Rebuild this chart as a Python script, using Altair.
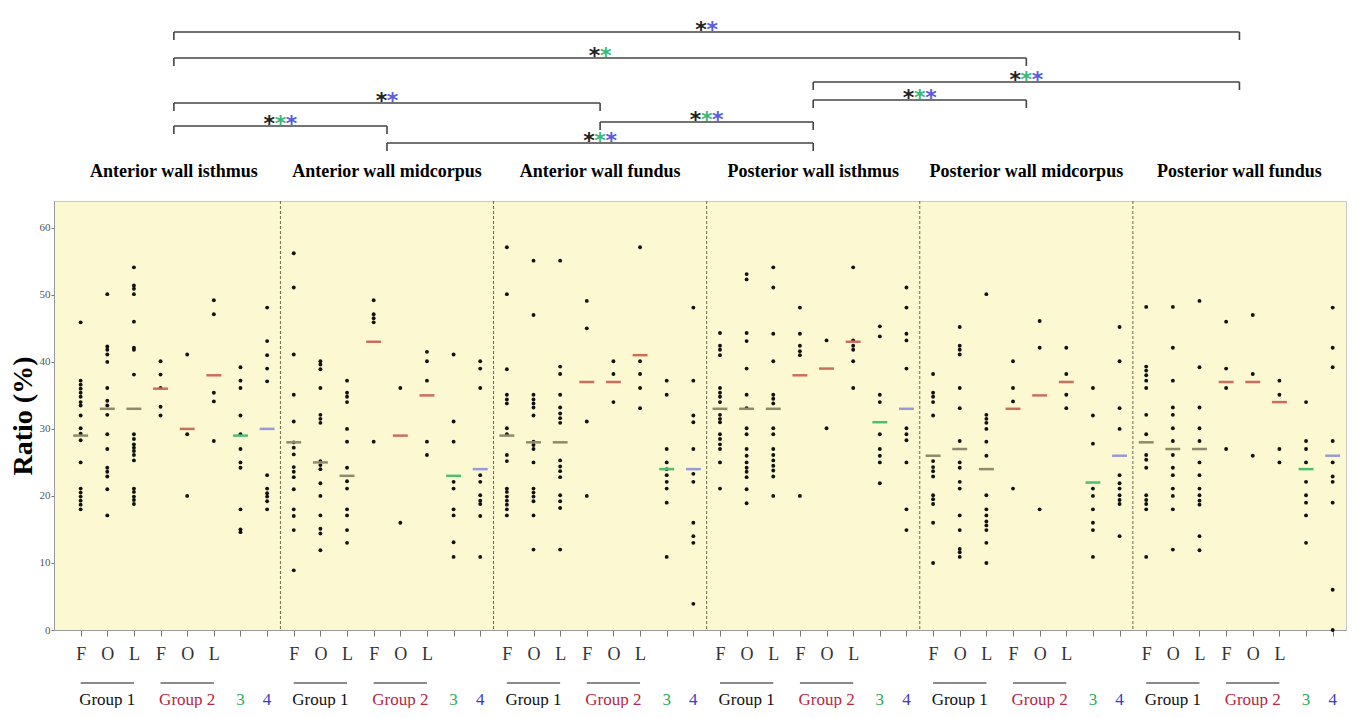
import altair as alt
import pandas as pd

# ---------------- data ----------------
panel_names = ["Anterior wall isthmus", "Anterior wall midcorpus", "Anterior wall fundus",
               "Posterior wall isthmus", "Posterior wall midcorpus", "Posterior wall fundus"]
col_group = ["Group 1", "Group 1", "Group 1", "Group 2", "Group 2", "Group 2", "3", "4"]
tick_letters = ["F", "O", "L", "F", "O", "L", "", ""]

# dots per panel: [G1-F, G1-O, G1-L, G2-F, G2-O, G2-L, 3, 4]
p1_dots = [
    [45.9, 37.2, 36.6, 36.0, 35.4, 34.8, 34.0, 33.5, 32.0, 30.1, 29.3, 28.3, 25.0, 21.1, 20.5, 19.9, 19.3, 18.7, 18.0],
    [50.1, 42.3, 41.8, 41.1, 40.0, 36.1, 34.2, 33.5, 32.1, 29.2, 27.0, 24.2, 23.6, 22.9, 21.0, 17.1],
    [54.1, 51.4, 50.9, 50.1, 46.0, 42.1, 41.8, 38.1, 29.2, 28.5, 27.7, 27.2, 26.7, 26.1, 25.3, 21.1, 20.6, 19.9, 19.4, 18.8],
    [40.1, 38.1, 36.1, 33.3, 32.0],
    [41.1, 29.2, 20.0],
    [49.2, 47.1, 35.4, 34.1, 28.2],
    [39.2, 37.2, 36.1, 32.0, 29.2, 27.0, 25.0, 24.2, 18.0, 15.0, 14.6],
    [48.1, 43.1, 41.0, 39.0, 37.1, 23.1, 21.1, 20.4, 19.9, 19.2, 18.0],
]
p2_dots = [
    [56.2, 51.1, 41.1, 35.1, 31.1, 28.0, 27.2, 26.2, 24.3, 23.6, 22.8, 21.0, 18.0, 17.0, 14.9, 8.9],
    [40.1, 39.6, 38.9, 36.1, 32.1, 31.5, 30.9, 25.2, 24.6, 24.0, 21.9, 20.0, 17.1, 15.1, 14.4, 11.9],
    [37.2, 35.4, 34.8, 34.0, 30.0, 28.1, 24.2, 22.2, 21.1, 18.0, 17.1, 14.9, 13.0],
    [49.2, 47.1, 46.5, 45.9, 28.1],
    [36.1, 16.0],
    [41.5, 40.1, 37.2, 28.1, 26.1],
    [41.1, 31.1, 28.1, 22.1, 21.1, 18.0, 17.1, 13.1, 10.9],
    [40.1, 39.0, 36.1, 23.1, 22.1, 20.1, 19.3, 18.8, 17.0, 10.9],
]
p3_dots = [
    [57.1, 50.1, 38.9, 35.1, 34.4, 33.8, 30.1, 29.2, 26.1, 25.2, 21.1, 20.6, 19.9, 19.3, 18.7, 18.0, 17.1],
    [55.1, 47.0, 35.1, 34.4, 33.8, 33.2, 32.0, 28.1, 27.6, 27.0, 25.0, 21.1, 20.5, 19.9, 19.2, 17.1, 12.0],
    [55.1, 39.3, 38.2, 35.1, 33.2, 32.3, 31.6, 30.9, 25.3, 24.4, 23.7, 22.8, 20.1, 19.2, 18.2, 12.0],
    [49.1, 45.0, 31.1, 20.0],
    [40.1, 38.2, 34.0],
    [57.1, 40.1, 38.2, 36.1, 33.1],
    [37.2, 35.1, 27.0, 25.0, 24.0, 23.1, 22.1, 21.1, 19.0, 10.9],
    [48.1, 37.2, 32.0, 31.0, 27.0, 23.3, 22.1, 16.0, 14.0, 13.0, 3.9],
]
p4_dots = [
    [44.3, 42.4, 41.8, 41.0, 36.1, 35.4, 34.8, 34.0, 32.1, 31.5, 31.0, 29.2, 28.5, 27.7, 27.0, 25.0, 21.1],
    [53.1, 52.3, 44.3, 43.1, 39.0, 35.1, 33.1, 30.1, 29.2, 27.0, 26.0, 25.0, 24.2, 23.6, 22.8, 21.0, 18.9],
    [54.1, 51.1, 44.2, 40.1, 35.1, 34.5, 33.8, 30.1, 29.2, 27.0, 26.1, 25.3, 24.5, 23.8, 22.9, 20.0],
    [48.1, 44.2, 42.4, 41.6, 41.0, 20.0],
    [43.2, 30.1],
    [54.1, 43.2, 42.4, 41.8, 40.1, 36.1],
    [45.3, 43.8, 35.1, 34.0, 29.2, 27.0, 26.0, 25.0, 21.9],
    [51.1, 48.1, 44.2, 43.2, 39.0, 30.1, 29.2, 28.3, 25.0, 18.0, 14.9],
]
p5_dots = [
    [38.2, 35.4, 34.8, 34.0, 32.0, 25.2, 24.3, 23.7, 22.9, 20.1, 19.5, 18.8, 16.0, 10.0],
    [45.2, 42.4, 41.8, 41.1, 36.1, 33.1, 28.2, 25.0, 24.2, 22.1, 21.1, 17.1, 14.9, 12.1, 11.6, 10.9],
    [50.1, 32.1, 31.5, 30.9, 30.0, 28.1, 26.0, 20.1, 18.0, 17.1, 16.2, 15.6, 14.9, 13.0, 10.0],
    [40.1, 36.1, 34.1, 21.1],
    [46.1, 42.1, 18.0],
    [42.1, 38.2, 35.1, 33.1],
    [36.1, 32.0, 27.8, 21.1, 20.0, 18.0, 16.0, 14.9, 10.9],
    [45.2, 40.1, 33.1, 30.0, 23.1, 21.9, 21.1, 20.1, 19.4, 18.8, 14.0],
]
p6_dots = [
    [48.2, 39.3, 38.7, 38.0, 37.2, 36.1, 32.1, 29.2, 26.1, 25.4, 24.2, 20.1, 19.4, 18.8, 18.0, 10.9],
    [48.2, 42.1, 37.2, 33.2, 32.1, 30.1, 28.2, 26.1, 24.2, 23.1, 21.1, 20.0, 18.0, 12.0],
    [49.1, 39.2, 33.2, 30.1, 28.2, 25.0, 23.1, 21.1, 20.1, 19.3, 18.7, 14.0, 11.9],
    [46.0, 39.0, 36.1, 27.0],
    [47.0, 38.2, 26.0],
    [37.2, 35.1, 27.0, 25.0],
    [34.0, 28.2, 27.0, 25.0, 22.1, 20.1, 19.0, 17.1, 13.0],
    [48.1, 42.1, 39.2, 28.2, 25.0, 22.9, 22.1, 19.0, 6.0, 0.0],
]

p1_medians = [29, 33, 33, 36, 30, 38, 29, 30]
p2_medians = [28, 25, 23, 43, 29, 35, 23, 24]
p3_medians = [29, 28, 28, 37, 37, 41, 24, 24]
p4_medians = [33, 33, 33, 38, 39, 43, 31, 33]
p5_medians = [26, 27, 24, 33, 35, 37, 22, 26]
p6_medians = [28, 27, 27, 37, 37, 34, 24, 26]

# significance brackets (panel index from / to), tier height, star colours
bracket_from = [0, 0, 3, 3, 0, 2, 0, 1]
bracket_to = [5, 4, 5, 4, 2, 3, 1, 3]
bracket_tier = [168, 142, 118, 100, 97, 78, 74, 57]
bracket_stars = [["k", "b"], ["k", "g"], ["k", "g", "b"], ["k", "g", "b"],
                 ["k", "b"], ["k", "g", "b"], ["k", "g", "b"], ["k", "g", "b"]]

# ---------------- tables ----------------
all_dots = [p1_dots, p2_dots, p3_dots, p4_dots, p5_dots, p6_dots]
all_medians = [p1_medians, p2_medians, p3_medians, p4_medians, p5_medians, p6_medians]
n_cols = len(col_group)

dot_rows, med_rows = [], []
for p, cols in enumerate(all_dots):
    for c, vals in enumerate(cols):
        for v in vals:
            dot_rows.append({"panel": panel_names[p], "pos": p * n_cols + c, "ratio": v})
        med_rows.append({"panel": panel_names[p], "pos": p * n_cols + c,
                         "ratio": all_medians[p][c], "mgroup": "m" + col_group[c]})
dots_df = pd.DataFrame(dot_rows)
med_df = pd.DataFrame(med_rows)
sep_df = pd.DataFrame({"pos": [p * n_cols - 0.5 for p in range(1, len(panel_names))]})

centre = lambda p: p * n_cols + (n_cols - 1) / 2
br_df = pd.DataFrame({"x1": [centre(a) for a in bracket_from],
                      "x2": [centre(b) for b in bracket_to],
                      "h": bracket_tier})
end_rows, star_rows = [], []
for a, b, h, stars in zip(bracket_from, bracket_to, bracket_tier, bracket_stars):
    end_rows += [{"x": centre(a), "h": h}, {"x": centre(b), "h": h}]
    mid = (centre(a) + centre(b)) / 2
    for i, s in enumerate(stars):
        star_rows.append({"x": mid + (i - (len(stars) - 1) / 2) * 0.42, "h": h, "c": s})
end_df = pd.DataFrame(end_rows)
star_df = pd.DataFrame(star_rows)
title_df = pd.DataFrame({"x": [centre(p) for p in range(len(panel_names))], "name": panel_names})

glines = []
glabels = []
for p in range(len(panel_names)):
    for c0, c1 in [(0, 2), (3, 5)]:
        glines.append({"x": p * n_cols + c0, "x2": p * n_cols + c1})
    for c in [1, 4, 6, 7]:
        glabels.append({"x": p * n_cols + c, "label": col_group[c]})
gline_df = pd.DataFrame(glines)
glab_df = pd.DataFrame(glabels)

# ---------------- chart ----------------
W = 1292
XDOM = [-1, n_cols * len(panel_names) - 0.5]
xs = alt.Scale(domain=XDOM, nice=False, zero=False)
SERIF = "Liberation Serif"

label_expr = "[" + ",".join("'%s'" % t for t in tick_letters) + "][datum.value % " + str(n_cols) + "]"

x_axis = alt.Axis(values=list(range(n_cols * len(panel_names))), labelExpr=label_expr,
                  labelFont=SERIF, labelFontSize=18, labelColor="#333", labelPadding=9,
                  labelFlush=False, labelOverlap=False, labelBound=False,
                  tickSize=6, tickColor="#777",
                  domainColor="#999", grid=False, title=None)
y_axis = alt.Axis(values=[0, 10, 20, 30, 40, 50, 60], labelFont=SERIF, labelFontSize=11,
                  labelColor="#555", tickSize=3, tickColor="#777", domainColor="#999",
                  grid=False, title="Ratio (%)", titleFont=SERIF, titleFontSize=28,
                  titleFontWeight="bold", titleColor="#000", titlePadding=2, labelPadding=1)
ys = alt.Scale(domain=[0, 64], nice=False)

dots = alt.Chart(dots_df).mark_circle(size=15, color="#111", opacity=1).encode(
    x=alt.X("pos:Q", scale=xs, axis=x_axis),
    y=alt.Y("ratio:Q", scale=ys, axis=y_axis),
)
meds = alt.Chart(med_df).transform_calculate(
    xa="datum.pos - 0.28", xb="datum.pos + 0.28"
).mark_rule(strokeWidth=2.5).encode(
    x=alt.X("xa:Q", scale=xs, axis=x_axis),
    x2="xb:Q",
    y=alt.Y("ratio:Q", scale=ys, axis=y_axis),
    color=alt.Color("mgroup:N", legend=None,
                    scale=alt.Scale(domain=["mGroup 1", "mGroup 2", "m3", "m4"],
                                    range=["#8c8c6c", "#cc6e5e", "#4cc070", "#9a9ad8"])),
)
seps = alt.Chart(sep_df).mark_rule(color="#6b6b4b", strokeWidth=1, strokeDash=[3, 2]).encode(
    x=alt.X("pos:Q", scale=xs, axis=x_axis)
)
main = alt.layer(dots, meds, seps).properties(
    width=W, height=429,
    view=alt.ViewBackground(fill="#fbf8d2", stroke="#c8c8c8"),
)

# top: brackets and panel titles
tys = alt.Scale(domain=[0, 192], nice=False)
blines = alt.Chart(br_df).mark_rule(color="#444", strokeWidth=1.6).encode(
    x=alt.X("x1:Q", scale=xs, axis=None), x2="x2:Q",
    y=alt.Y("h:Q", scale=tys, axis=None))
bends = alt.Chart(end_df).transform_calculate(h2="datum.h - 8").mark_rule(
    color="#444", strokeWidth=1.6).encode(
    x=alt.X("x:Q", scale=xs, axis=None),
    y=alt.Y("h:Q", scale=tys, axis=None), y2="h2:Q")
stars = alt.Chart(star_df).mark_text(text="*", font="DejaVu Sans", fontSize=22,
                                     fontWeight="bold", baseline="middle", dy=-2).encode(
    x=alt.X("x:Q", scale=xs, axis=None),
    y=alt.Y("h:Q", scale=tys, axis=None),
    color=alt.Color("c:N", legend=None,
                    scale=alt.Scale(domain=["k", "g", "b"], range=["#222222", "#3cb878", "#5a5ae0"])))
titles = alt.Chart(title_df).mark_text(font=SERIF, fontSize=18, fontWeight="bold",
                                       color="#000", baseline="middle").encode(
    x=alt.X("x:Q", scale=xs, axis=None),
    y=alt.value(164),
    text="name:N")
top = alt.layer(blines, bends, stars, titles).properties(
    width=W, height=192, view=alt.ViewBackground(stroke=None))

# bottom: group labels
gl = alt.Chart(gline_df).mark_rule(color="#8a8a8a", strokeWidth=2).encode(
    x=alt.X("x:Q", scale=xs, axis=None), x2="x2:Q", y=alt.value(19))
gt = alt.Chart(glab_df).mark_text(font=SERIF, fontSize=17, baseline="middle").encode(
    x=alt.X("x:Q", scale=xs, axis=None), y=alt.value(36), text="label:N",
    color=alt.Color("label:N", legend=None,
                    scale=alt.Scale(domain=["Group 1", "Group 2", "3", "4"],
                                    range=["#111111", "#b22845", "#2aa95a", "#3a3ac8"])))
bottom = alt.layer(gl, gt).properties(width=W, height=44, view=alt.ViewBackground(stroke=None))

chart = alt.vconcat(top, main, bottom, spacing=0).resolve_scale(color="independent").properties(
    padding=0, background="white")
chart.save("out.html", embed_options={"renderer": "svg", "actions": False})
